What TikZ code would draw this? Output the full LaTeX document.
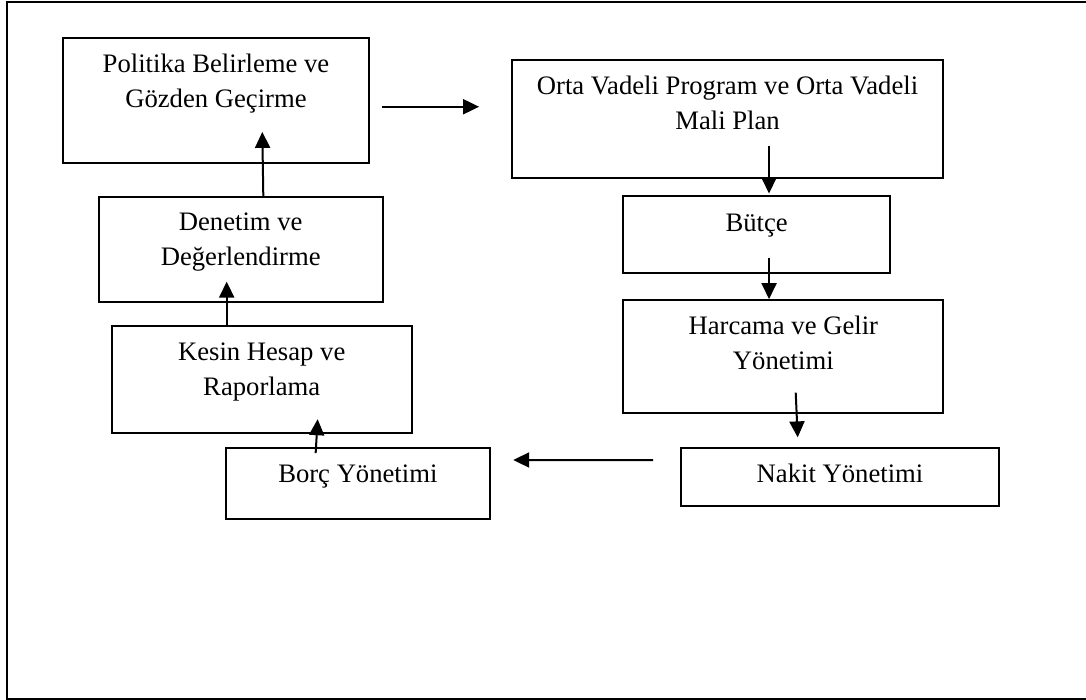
\documentclass[tikz,border=0pt]{standalone}
\usepackage{fontspec}
\setmainfont{Liberation Serif}
\usepackage{tikz}
\usetikzlibrary{arrows.meta}

\tikzset{
  box/.style={draw, line width=0.9pt, rectangle, inner sep=0pt},
  lbl/.style={anchor=base, align=center, inner sep=0pt,
    font=\fontsize{13.33}{17.5}\selectfont},
  flow/.style={line width=1pt, -{Triangle[length=8pt, width=7.5pt]}}
}

\begin{document}
\begin{tikzpicture}[x=0.5pt, y=-0.5pt]
  \useasboundingbox (0,0) rectangle (1086,700);
  \clip (0,0) rectangle (1086,700);
  % Outer frame
  \draw[line width=1pt] (6.7,2.3) rectangle (1100,699);
  % Left column
  \node[box, minimum width=153.3pt, minimum height=62.65pt] (politika) at (216,100.35) {};
  \node[lbl] (politikat) at ([yshift=-35.2pt]politika.north) {Politika Belirleme ve\\Gözden Geçirme};
  \node[box, minimum width=142pt, minimum height=52.5pt] (denetim) at (240.7,249.2) {};
  \node[lbl] (denetimt) at ([yshift=-35pt]denetim.north) {Denetim ve\\Değerlendirme};
  \node[box, minimum width=150pt, minimum height=53.65pt] (kesin) at (261.7,379.65) {};
  \node[lbl] (kesint) at ([yshift=-35.2pt]kesin.north) {Kesin Hesap ve\\Raporlama};
  \node[box, minimum width=132.15pt, minimum height=35.8pt] (borc) at (357.85,483.5) {};
  \node[lbl] (borct) at ([yshift=-17.9pt]borc.north) {Borç Yönetimi};
  % Right column
  \node[box, minimum width=215.8pt, minimum height=59.15pt] (orta) at (727.5,119.15) {};
  \node[lbl] (ortat) at ([yshift=-35.2pt]orta.north) {Orta Vadeli Program ve Orta Vadeli\\Mali Plan};
  \node[box, minimum width=133.35pt, minimum height=38.35pt] (butce) at (756.65,234.35) {};
  \node[lbl] (butcet) at ([yshift=-18pt]butce.north) {Bütçe};
  \node[box, minimum width=160pt, minimum height=56.65pt] (harcama) at (783.3,356.65) {};
  \node[lbl] (harcamat) at ([yshift=-35.2pt]harcama.north) {Harcama ve Gelir\\Yönetimi};
  \node[box, minimum width=159pt, minimum height=29pt] (nakit) at (840,476.7) {};
  \node[lbl] (nakitt) at ([yshift=-17.9pt]nakit.north) {Nakit Yönetimi};
  % Arrows
  \draw[flow] ([shift={(5.85pt,-3.2pt)}]politika.east) -- ([shift={(-15.85pt,-3.2pt)}]orta.west |- politika.east);
  \draw[flow] ([shift={(20.75pt,16.65pt)}]orta.south) -- ([shift={(20.75pt,0.8pt)}]orta.south |- butce.north);
  \draw[flow] ([shift={(6.2pt,8pt)}]butce.south) -- ([xshift=6.2pt]butce.south |- harcama.north);
  \draw[flow] ([shift={(6.2pt,10.8pt)}]harcama.south) -- ([shift={(7.2pt,4.7pt)}]harcama.south |- nakit.north);
  \draw[flow] ([shift={(-13.5pt,8.35pt)}]nakit.west) -- ([shift={(11.15pt,11.75pt)}]borc.east);
  \draw[flow] ([shift={(-21.1pt,-3.15pt)}]borc.north) -- ([shift={(-20.1pt,7.5pt)}]borc.north |- kesin.south);
  \draw[flow] ([xshift=-17.5pt]kesin.north) -- ([shift={(-17.5pt,10.5pt)}]kesin.north |- denetim.south);
  \draw[flow] ([xshift=11.3pt]denetim.north) -- ([shift={(10.8pt,16pt)}]denetim.north |- politika.south);
\end{tikzpicture}
\end{document}
